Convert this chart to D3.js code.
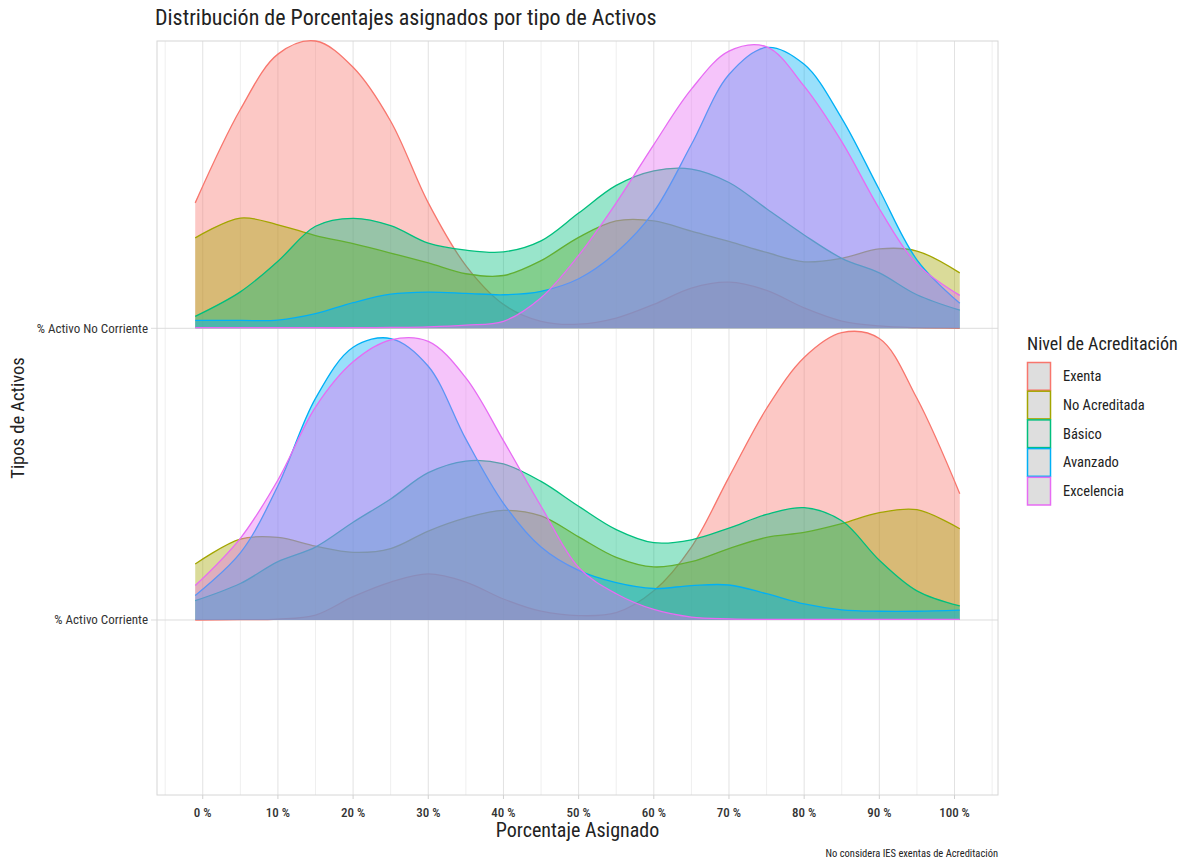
<!DOCTYPE html>
<html>
<head>
<meta charset="utf-8">
<script src="https://cdn.jsdelivr.net/npm/d3@7"></script>
<style>
body { margin: 0; background: #fff; }
text { font-family: "Roboto Condensed", Roboto, sans-serif; }
</style>
</head>
<body>
<svg id="chart" width="1183" height="865"></svg>
<script>
// grid of x positions (Porcentaje asignado) where the ridges were read
var pctGrid = [-1, 5, 10, 15, 20, 25, 30, 35, 40, 45, 50, 55, 60, 65, 70, 75, 80, 85, 90, 95, 100.7];

var niveles = ['Exenta', 'No Acreditada', 'Básico', 'Avanzado', 'Excelencia'];
var nivelColors = ['#F8766D', '#A3A500', '#00BF7D', '#00B0F6', '#E76BF3'];

// ridges, bottom to top
var tipos = ['% Activo Corriente', '% Activo No Corriente'];

var xTicks = [0, 10, 20, 30, 40, 50, 60, 70, 80, 90, 100];
var xMinor = [-5, 5, 15, 25, 35, 45, 55, 65, 75, 85, 95, 105];

// scaled density heights, % Activo No Corriente
var noCorrienteExenta      = [.43, .75, .94, .985, .895, .71, .43, .215, .082, .024, .014, .035, .082, .138, .158, .13, .07, .025, .008, .002, 0];
var noCorrienteNoAcred     = [.31, .378, .355, .318, .29, .258, .224, .187, .181, .232, .312, .368, .368, .333, .298, .26, .228, .24, .272, .265, .19];
var noCorrienteBasico      = [.041, .125, .23, .35, .377, .352, .292, .268, .262, .30, .395, .49, .54, .546, .50, .41, .32, .24, .19, .115, .062];
var noCorrienteAvanzado    = [.027, .027, .028, .05, .088, .117, .124, .12, .115, .127, .17, .26, .40, .63, .87, .963, .905, .72, .475, .235, .086];
var noCorrienteExcelencia  = [.002, .002, .002, .002, .002, .003, .005, .011, .024, .105, .25, .43, .63, .82, .95, .965, .83, .64, .41, .22, .113];

// scaled density heights, % Activo Corriente
var corrienteExenta        = [0, .001, .003, .017, .08, .13, .158, .13, .072, .03, .015, .025, .10, .25, .49, .725, .90, .985, .965, .76, .433];
var corrienteNoAcred       = [.192, .277, .283, .253, .232, .245, .305, .35, .376, .357, .285, .215, .182, .20, .245, .283, .30, .33, .368, .378, .313];
var corrienteBasico        = [.066, .125, .20, .25, .335, .415, .505, .545, .535, .475, .39, .31, .265, .275, .315, .362, .385, .34, .205, .10, .048];
var corrienteAvanzado      = [.084, .23, .46, .76, .935, .965, .87, .62, .40, .25, .17, .128, .108, .118, .12, .09, .055, .035, .03, .03, .034];
var corrienteExcelencia    = [.118, .28, .48, .73, .885, .96, .955, .83, .615, .39, .18, .09, .036, .01, .004, .002, .002, .002, .002, .002, .002];

var ridges = [
    [corrienteExenta, corrienteNoAcred, corrienteBasico, corrienteAvanzado, corrienteExcelencia],
    [noCorrienteExenta, noCorrienteNoAcred, noCorrienteBasico, noCorrienteAvanzado, noCorrienteExcelencia]
];

var svg = d3.select('#chart');
svg.append('rect').attr('width', 1183).attr('height', 865).attr('fill', '#fff');

var panel = { left: 157, right: 998, top: 41, bottom: 795 };

var xMin = d3.min(pctGrid), xMax = d3.max(pctGrid);
var xPad = (xMax - xMin) * 0.05;
var x = d3.scaleLinear().domain([xMin - xPad, xMax + xPad]).range([panel.left, panel.right]);

var maxTop = d3.max(ridges[1], function(s) { return d3.max(s); });
var y = d3.scaleLinear().domain([1 - 0.6, 2 + maxTop]).range([panel.bottom, panel.top]);

// grid
var grid = svg.append('g');
grid.selectAll('.minor').data(xMinor).enter().append('line')
    .attr('x1', function(d) { return x(d); }).attr('x2', function(d) { return x(d); })
    .attr('y1', panel.top).attr('y2', panel.bottom)
    .attr('stroke', '#efefef').attr('stroke-width', 1);
grid.selectAll('.major').data(xTicks).enter().append('line')
    .attr('x1', function(d) { return x(d); }).attr('x2', function(d) { return x(d); })
    .attr('y1', panel.top).attr('y2', panel.bottom)
    .attr('stroke', '#e2e2e2').attr('stroke-width', 1);
grid.selectAll('.hgrid').data(tipos).enter().append('line')
    .attr('x1', panel.left - 6).attr('x2', panel.right)
    .attr('y1', function(d, i) { return y(i + 1); }).attr('y2', function(d, i) { return y(i + 1); })
    .attr('stroke', '#dcdcdc').attr('stroke-width', 1);
svg.append('rect')
    .attr('x', panel.left).attr('y', panel.top)
    .attr('width', panel.right - panel.left).attr('height', panel.bottom - panel.top)
    .attr('fill', 'none').attr('stroke', '#d6d6d6').attr('stroke-width', 1);

// ridges
var ridgeG = svg.append('g');
ridges.forEach(function(series, r) {
    var base = r + 1;
    var area = d3.area()
        .x(function(d, i) { return x(pctGrid[i]); })
        .y0(y(base))
        .y1(function(d) { return y(base + d); })
        .curve(d3.curveCatmullRom);
    var line = d3.line()
        .x(function(d, i) { return x(pctGrid[i]); })
        .y(function(d) { return y(base + d); })
        .curve(d3.curveCatmullRom);
    series.forEach(function(vals, k) {
        ridgeG.append('path').attr('d', area(vals))
            .attr('fill', nivelColors[k]).attr('fill-opacity', 0.4);
        ridgeG.append('path').attr('d', line(vals))
            .attr('fill', 'none').attr('stroke', nivelColors[k]).attr('stroke-width', 1.3);
    });
});

// x axis
svg.selectAll('.xtick').data(xTicks).enter().append('line')
    .attr('x1', function(d) { return x(d); }).attr('x2', function(d) { return x(d); })
    .attr('y1', panel.bottom).attr('y2', panel.bottom + 4)
    .attr('stroke', '#d0d0d0');
svg.selectAll('.xlab').data(xTicks).enter().append('text')
    .attr('x', function(d) { return x(d); }).attr('y', 817)
    .attr('text-anchor', 'middle').attr('font-size', 13).attr('font-weight', 500)
    .attr('fill', '#333')
    .text(function(d) { return d + ' %'; });

svg.append('text').attr('x', (panel.left + panel.right) / 2).attr('y', 837)
    .attr('text-anchor', 'middle').attr('font-size', 20).attr('fill', '#222')
    .text('Porcentaje Asignado');

// y axis
svg.selectAll('.ylab').data(tipos).enter().append('text')
    .attr('x', panel.left - 9).attr('y', function(d, i) { return y(i + 1) + 4.5; })
    .attr('text-anchor', 'end').attr('font-size', 13).attr('fill', '#333')
    .text(function(d) { return d; });

svg.append('text')
    .attr('transform', 'translate(24,' + ((panel.top + panel.bottom) / 2) + ') rotate(-90)')
    .attr('text-anchor', 'middle').attr('font-size', 18.5).attr('fill', '#222')
    .text('Tipos de Activos');

// title and caption
svg.append('text').attr('x', 155).attr('y', 25)
    .attr('font-size', 22).attr('fill', '#222')
    .text('Distribución de Porcentajes asignados por tipo de Activos');

svg.append('text').attr('x', panel.right).attr('y', 857)
    .attr('text-anchor', 'end').attr('font-size', 10.5).attr('fill', '#222')
    .text('No considera IES exentas de Acreditación');

// legend
var legend = svg.append('g').attr('transform', 'translate(1027,0)');
legend.append('text').attr('x', 0).attr('y', 350)
    .attr('font-size', 18).attr('fill', '#222')
    .text('Nivel de Acreditación');
var keyH = 28.7, keyTop = 362;
var keys = legend.selectAll('.key').data(niveles).enter().append('g')
    .attr('transform', function(d, i) { return 'translate(0,' + (keyTop + i * keyH) + ')'; });
keys.append('rect').attr('x', 0.5).attr('y', 0.5).attr('width', 23).attr('height', keyH - 1)
    .attr('fill', '#dedede')
    .attr('stroke', function(d, i) { return nivelColors[i]; }).attr('stroke-width', 1.5);
keys.append('text').attr('x', 36).attr('y', keyH / 2 + 5)
    .attr('font-size', 14.5).attr('fill', '#222')
    .text(function(d) { return d; });
</script>
</body>
</html>
